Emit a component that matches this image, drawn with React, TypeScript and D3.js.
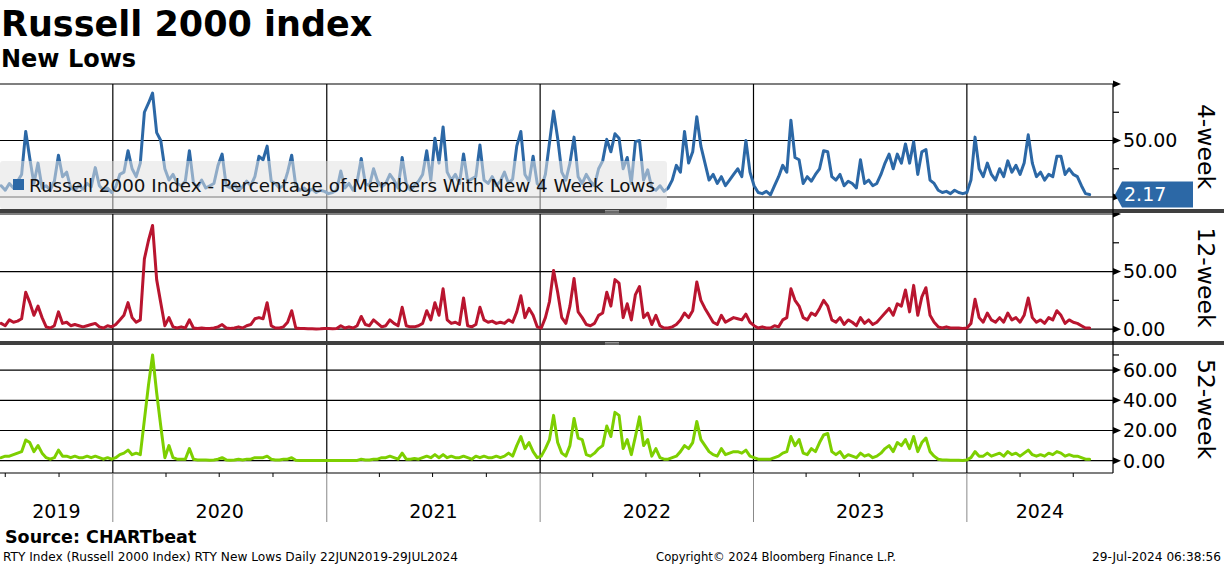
import React from "react";
import * as d3 from "d3";

// ---- data (weekly samples, first week starting 2019-06-24, last 2024-07-29) ----
const START_DATE = "2019-06-24";
const X_DOMAIN = ["2019-06-22", "2024-09-07"];
const YEARS = ["2019", "2020", "2021", "2022", "2023", "2024"];

const fourWeek = [
  10, 6, 12, 8, 14, 20, 58, 34, 12, 30,
  8, 10, 6, 14, 37, 18, 22, 8, 6, 10,
  7, 12, 9, 26, 10, 6, 8, 4, 9, 20,
  22, 41, 25, 18, 30, 75, 83, 92, 57, 50,
  25, 15, 20, 12, 10, 14, 41, 12, 9, 15,
  8, 10, 12, 28, 38, 10, 8, 12, 6, 9,
  14, 10, 18, 36, 33, 45, 14, 12, 8, 10,
  22, 37, 10, 6, 8, 5, 7, 4, 6, 5,
  3, 4, 6, 23, 8, 12, 6, 14, 34, 12,
  10, 25, 14, 9, 12, 20, 15, 8, 35, 12,
  6, 10, 14, 20, 41, 15, 52, 30, 62, 22,
  15, 20, 12, 38, 14, 16, 18, 46, 15, 12,
  18, 10, 14, 22, 12, 16, 45, 58, 20, 14,
  36, 12, 8, 20, 48, 76, 52, 22, 15, 30,
  53, 18, 12, 20, 14, 10, 25, 32, 51, 40,
  56, 52, 25, 35, 12, 49, 50, 15, 24, 8,
  6, 10, 5, 8, 15, 28, 22, 58, 30, 40,
  71, 45, 30, 15, 20, 12, 18, 10, 15, 20,
  25, 18, 50, 22, 10, 4, 3, 5, 2, 10,
  18, 28, 22, 68, 35, 33, 12, 18, 14, 20,
  25, 41, 40, 18, 15, 20, 10, 14, 12, 8,
  33, 12, 15, 10, 12, 20, 30, 38, 25, 38,
  30, 47, 30, 49, 20, 40, 42, 15, 12, 6,
  4, 5, 3, 6, 4, 3, 4, 15, 53, 25,
  18, 30, 20, 15, 25, 18, 32, 22, 28, 20,
  30, 55, 30, 18, 22, 15, 20, 18, 36, 36,
  20, 25, 20, 18, 10, 3, 2.17,
];

const twelveWeek = [
  5, 3, 8, 6, 7, 9, 32, 23, 12, 20,
  10, 2, 1, 3, 15, 5, 6, 3, 4, 3,
  2, 3, 4, 5, 2, 1, 3, 2, 4, 8,
  12, 23, 10, 6, 8, 61, 77, 90, 43, 23,
  3, 10, 2, 1, 2, 1, 8, 1, 0.5, 1,
  0.5, 0.5, 1, 2, 4, 1, 0.5, 1, 2, 1,
  3, 4, 9, 10, 9, 23, 3, 1, 1, 2,
  6, 16, 1, 0.5, 0.5, 0.3, 0.3, 0.2, 0.3, 0.5,
  0.5, 0.3, 0.5, 3, 1, 2, 1, 3, 11, 4,
  3, 8, 5, 2, 3, 8, 5, 3, 19, 3,
  2, 2, 3, 5, 16, 8, 23, 12, 35, 8,
  5, 6, 4, 27, 3, 2, 4, 19, 8, 6,
  7, 5, 6, 5, 8, 6, 15, 29, 10, 18,
  12, 2, 1, 10, 24, 51, 32, 10, 5, 20,
  44, 15, 10, 4, 3, 5, 12, 14, 32, 20,
  43, 40, 10, 22, 8, 30, 37, 10, 14, 4,
  12, 3, 1, 1, 2, 4, 8, 14, 10, 16,
  41, 25, 18, 12, 6, 4, 12, 6, 8, 10,
  9, 8, 13, 6, 3, 1, 2, 1, 1, 3,
  2, 8, 10, 35, 25, 20, 10, 8, 14, 12,
  18, 25, 20, 8, 6, 10, 4, 8, 6, 3,
  10, 5, 8, 4, 6, 10, 14, 18, 12, 22,
  20, 34, 15, 38, 12, 28, 36, 12, 6, 2,
  1, 2, 1, 1, 1, 0.5, 1, 5, 26, 10,
  6, 14, 8, 6, 10, 6, 14, 8, 10, 6,
  12, 27, 10, 6, 8, 5, 10, 8, 16, 12,
  5, 8, 6, 5, 3, 1, 1,
];

const fiftyTwoWeek = [
  2, 3, 3, 4, 5, 6, 13.7, 12, 6, 10,
  5, 2, 1, 2, 7, 3, 3, 2, 3, 2,
  2, 3, 2, 3, 2, 1, 2, 1, 2, 4,
  5, 7, 4, 5, 4, 27, 50, 70, 45, 23,
  2, 10, 2, 1, 1, 1, 8, 1, 0.5, 0.5,
  0.5, 0.3, 0.5, 1, 2, 0.5, 0.3, 0.5, 1, 0.5,
  1, 1, 2, 2, 2, 3, 1, 0.5, 0.5, 1,
  1, 2, 0.3, 0.2, 0.1, 0.1, 0.1, 0.1, 0.1, 0.1,
  0.1, 0.1, 0.1, 0.1, 0.1, 0.1, 0.1, 0.2, 1, 0.5,
  0.5, 1, 1, 2, 2, 3, 2, 1, 5, 1,
  1, 1.5, 1, 2, 3, 2, 4, 2, 4, 2,
  3, 2, 2, 3, 2, 1, 3, 2, 3, 2,
  2, 3, 2, 3, 5, 3, 10, 16, 8, 12,
  6, 2, 3, 8, 14, 30, 12, 5, 3, 10,
  28, 15, 14, 4, 3, 5, 8, 10, 23, 16,
  32, 30, 8, 14, 4, 16, 29, 10, 14, 3,
  8, 2, 1, 1, 2, 3, 6, 10, 8, 12,
  26, 14, 10, 6, 4, 3, 8, 4, 5, 6,
  6, 5, 7, 3, 2, 1, 1, 1, 1, 2,
  3, 5, 6, 16, 10, 14, 5, 4, 8, 6,
  12, 17, 18, 6, 4, 6, 2, 4, 3, 2,
  5, 3, 4, 2, 3, 5, 8, 10, 6, 12,
  10, 14, 8, 16, 6, 12, 15, 6, 3, 1,
  0.5, 0.5, 0.3, 0.3, 0.3, 0.2, 0.5, 2, 6, 3,
  3, 5, 3, 4, 5, 3, 6, 4, 5, 3,
  5, 7, 4, 3, 4, 3, 5, 4, 6, 5,
  3, 4, 3, 3, 2, 1, 1,
];

const LEGEND_TEXT = "Russell 2000 Index - Percentage of Members With New 4 Week Lows";
const LAST_VALUE_LABEL = "2.17";

const FONT = "'DejaVu Sans', Verdana, sans-serif";
const W = 1224;
const H = 566;
const AXIS_X = 1113;

const BLUE = "#2c68a6";
const RED = "#b9152f";
const GREEN = "#7dcf00";

type Panel = {
  values: number[];
  color: string;
  domain: [number, number];
  range: [number, number];
  majors: number[];
  labels: number[];
  minors: number[];
  title: string;
};

const panels: Panel[] = [
  { values: fourWeek, color: BLUE, domain: [-10.6, 100], range: [209, 84], majors: [0, 50, 100], labels: [50], minors: [25, 75], title: "4-week" },
  { values: twelveWeek, color: RED, domain: [-10.3, 100], range: [341, 214], majors: [0, 50, 100], labels: [0, 50], minors: [25, 75], title: "12-week" },
  { values: fiftyTwoWeek, color: GREEN, domain: [-8.15, 76.6], range: [473, 345], majors: [0, 20, 40, 60], labels: [0, 20, 40, 60], minors: [70], title: "52-week" },
];

export default function App() {
  const start = new Date(START_DATE + "T00:00:00Z");
  const dates = fourWeek.map((_, i) => d3.utcDay.offset(start, i * 7));
  const x = d3
    .scaleUtc()
    .domain(X_DOMAIN.map((d) => new Date(d + "T00:00:00Z")))
    .range([0, AXIS_X]);

  const yearStarts = YEARS.slice(1).map((y) => new Date(`${y}-01-01T00:00:00Z`));
  const yearEdges = [0, ...yearStarts.map((d) => x(d)), AXIS_X];
  const quarterTicks = d3.utcMonth
    .every(3)!
    .range(x.domain()[0], x.domain()[1])
    .filter((d) => d.getUTCMonth() !== 0);

  return (
    <svg
      width={W}
      height={H}
      style={{ position: "absolute", left: 0, top: 0, display: "block", background: "#fff" }}
      fontFamily={FONT}
    >
      <rect x={0} y={0} width={W} height={H} fill="#fff" />
      {/* titles */}
      <text x={1} y={36} fontSize={35} fontWeight="bold" fill="#000">Russell 2000 index</text>
      <text x={1} y={67} fontSize={24} fontWeight="bold" fill="#000">New Lows</text>

      {panels.map((p, pi) => {
        const y = d3.scaleLinear().domain(p.domain).range(p.range);
        const line = d3
          .line<number>()
          .x((_, i) => x(dates[i]))
          .y((v) => y(v))
          .curve(d3.curveLinear);
        const clipId = `clip${pi}`;
        const top = p.range[1];
        const bottom = p.range[0];
        return (
          <g key={pi}>
            <clipPath id={clipId}>
              <rect x={0} y={top} width={AXIS_X} height={bottom - top} />
            </clipPath>
            {/* horizontal gridlines */}
            {p.majors.map((m) => (
              <line key={"g" + m} x1={0} x2={AXIS_X} y1={y(m)} y2={y(m)} stroke="#000" strokeWidth={1.2} />
            ))}
            {/* vertical year gridlines */}
            {yearStarts.map((d, i) => (
              <line key={"v" + i} x1={x(d)} x2={x(d)} y1={top} y2={bottom} stroke="#000" strokeWidth={1.2} />
            ))}
            <path
              d={line(p.values) || ""}
              fill="none"
              stroke={p.color}
              strokeWidth={3}
              strokeLinejoin="round"
              strokeLinecap="round"
              clipPath={`url(#${clipId})`}
            />
            {/* right axis ticks */}
            {p.majors.map((m) => (
              <path key={"a" + m} d={`M${AXIS_X},${y(m) - 3.5}L${AXIS_X + 8},${y(m)}L${AXIS_X},${y(m) + 3.5}Z`} fill="#000" />
            ))}
            {p.minors.map((m) => (
              <line key={"m" + m} x1={AXIS_X} x2={AXIS_X + 6} y1={y(m)} y2={y(m)} stroke="#000" strokeWidth={1.2} />
            ))}
            {p.labels.map((m) => (
              <text key={"l" + m} x={AXIS_X + 10} y={y(m)} dy="0.36em" fontSize={19} fill="#000">
                {d3.format(".2f")(m)}
              </text>
            ))}
            <text
              transform={`translate(1198,${(top + bottom) / 2}) rotate(90)`}
              textAnchor="middle"
              fontSize={23.5}
              fill="#000"
            >
              {p.title}
            </text>
          </g>
        );
      })}

      {/* legend for top panel (semi-transparent) */}
      <rect x={0} y={161} width={667} height={48} rx={3} fill="#e2e2e2" fillOpacity={0.55} />
      <rect x={13} y={179} width={11} height={11} fill={BLUE} />
      <text x={29} y={192} fontSize={17.5} fill="#111" textLength={626} lengthAdjust="spacingAndGlyphs">
        {LEGEND_TEXT}
      </text>

      {/* last value label */}
      {(() => {
        const y0 = d3.scaleLinear().domain(panels[0].domain).range(panels[0].range)(fourWeek[fourWeek.length - 1]);
        const t = y0 - 13;
        const b = y0 + 13;
        return (
          <g>
            <path d={`M${AXIS_X + 2},${y0}L${AXIS_X + 9},${t}L1193,${t}L1193,${b}L${AXIS_X + 9},${b}Z`} fill={BLUE} />
            <text x={AXIS_X + 11} y={y0} dy="0.36em" fontSize={19} fill="#fff">{LAST_VALUE_LABEL}</text>
          </g>
        );
      })()}

      {/* separators */}
      {[209, 341].map((sy, i) => (
        <g key={"s" + i}>
          <rect x={0} y={sy} width={W} height={4} fill="#3f3f3f" />
          <line x1={605} x2={619} y1={sy + 1.5} y2={sy + 1.5} stroke="#aaa" strokeWidth={0.8} />
          <line x1={605} x2={619} y1={sy + 3} y2={sy + 3} stroke="#aaa" strokeWidth={0.8} />
        </g>
      ))}

      {/* right axis line */}
      <line x1={AXIS_X} x2={AXIS_X} y1={84} y2={473} stroke="#000" strokeWidth={1.2} />
      {/* bottom axis */}
      <line x1={0} x2={AXIS_X} y1={473} y2={473} stroke="#000" strokeWidth={1.2} />
      {quarterTicks.map((d, i) => (
        <line key={"q" + i} x1={x(d)} x2={x(d)} y1={473} y2={477} stroke="#000" strokeWidth={1} />
      ))}
      {yearStarts.map((d, i) => (
        <line key={"ys" + i} x1={x(d)} x2={x(d)} y1={473} y2={522} stroke="#888" strokeWidth={1} />
      ))}
      {YEARS.map((yr, i) => (
        <text key={yr} x={(yearEdges[i] + yearEdges[i + 1]) / 2} y={518} textAnchor="middle" fontSize={19} fill="#000">
          {yr}
        </text>
      ))}

      {/* footer */}
      <text x={5} y={543} fontSize={17.5} fontWeight="bold" fill="#000">Source: CHARTbeat</text>
      <text x={3} y={561} fontSize={12.5} fill="#000" textLength={455} lengthAdjust="spacingAndGlyphs">
        RTY Index (Russell 2000 Index) RTY New Lows  Daily 22JUN2019-29JUL2024
      </text>
      <text x={656} y={561} fontSize={12.5} fill="#000" textLength={240} lengthAdjust="spacingAndGlyphs">
        Copyright© 2024 Bloomberg Finance L.P.
      </text>
      <text x={1092} y={561} fontSize={12.5} fill="#000" textLength={129} lengthAdjust="spacingAndGlyphs">
        29-Jul-2024 06:38:56
      </text>
    </svg>
  );
}
